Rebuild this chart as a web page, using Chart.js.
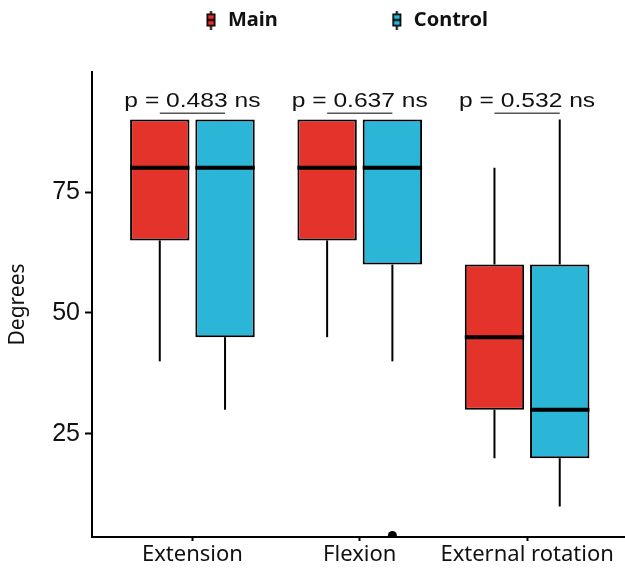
<!DOCTYPE html>
<html>
<head>
<meta charset="utf-8">
<script src="https://cdn.jsdelivr.net/npm/chart.js@4/dist/chart.umd.min.js"></script>
<style>
  html, body { margin: 0; padding: 0; background: #ffffff; }
  #wrap { width: 625px; height: 572px; }
</style>
</head>
<body>
<div id="wrap"><canvas id="c" width="625" height="572"></canvas></div>
<script>
// ---- data ----
const CATEGORIES = ['Extension', 'Flexion', 'External rotation'];
const SERIES = ['Main', 'Control'];

const MAIN_MIN = [40, 45, 20];
const MAIN_Q1  = [65, 65, 30];
const MAIN_MED = [80, 80, 45];
const MAIN_Q3  = [90, 90, 60];
const MAIN_MAX = [90, 90, 80];
const MAIN_OUTLIERS = [[], [], []];

const CTRL_MIN = [30, 40, 10];
const CTRL_Q1  = [45, 60, 20];
const CTRL_MED = [80, 80, 30];
const CTRL_Q3  = [90, 90, 60];
const CTRL_MAX = [90, 90, 90];
const CTRL_OUTLIERS = [[], [4], []];

const P_VALUES = ['0.483', '0.637', '0.532'];
const P_SIGNIF = ['ns', 'ns', 'ns'];

const Y_TICKS = [25, 50, 75];

// ---- styling ----
const RED = '#E4332A';
const BLUE = '#2BB5D6';
const STATS = [
  { min: MAIN_MIN, q1: MAIN_Q1, med: MAIN_MED, q3: MAIN_Q3, max: MAIN_MAX, out: MAIN_OUTLIERS },
  { min: CTRL_MIN, q1: CTRL_Q1, med: CTRL_MED, q3: CTRL_Q3, max: CTRL_MAX, out: CTRL_OUTLIERS }
];

function legendIcon(color) {
  const c = document.createElement('canvas');
  c.width = 11; c.height = 19;
  const g = c.getContext('2d');
  g.strokeStyle = '#000';
  g.lineWidth = 2;
  g.beginPath(); g.moveTo(5.5, 0); g.lineTo(5.5, 19); g.stroke();
  g.fillStyle = color;
  g.fillRect(1, 3, 9, 13);
  g.lineWidth = 1.6;
  g.strokeRect(1.8, 3.8, 7.4, 11.4);
  g.lineWidth = 2;
  g.beginPath(); g.moveTo(1, 9.5); g.lineTo(10, 9.5); g.stroke();
  return c;
}

const boxPlugin = {
  id: 'boxParts',
  beforeUpdate(chart) {
    const lg = chart.legend;
    if (!lg || lg._patched) return;
    lg._patched = true;
    const fit0 = lg.fit;
    lg.fit = function () { fit0.call(this); this.height = 72; };
    const draw0 = lg.draw;
    lg.draw = function () {
      const p = this.options.labels.padding;
      const L = this.left, R = this.right, T = this.top;
      const start = (this.left + p + this.right - this.lineWidths[0]) / 2;
      const dx = 204 - start;
      this.left += dx; this.right += dx; this.top = 10 - p;
      draw0.call(this);
      this.left = L; this.right = R; this.top = T;
    };
  },
  beforeDatasetsDraw(chart) {
    const ctx = chart.ctx, y = chart.scales.y;
    ctx.save();
    ctx.strokeStyle = '#000';
    ctx.lineWidth = 2;
    STATS.forEach((s, d) => {
      const meta = chart.getDatasetMeta(d);
      meta.data.forEach((el, i) => {
        const x = el.x;
        ctx.beginPath();
        ctx.moveTo(x, y.getPixelForValue(s.q1[i]));
        ctx.lineTo(x, y.getPixelForValue(s.min[i]));
        ctx.moveTo(x, y.getPixelForValue(s.q3[i]));
        ctx.lineTo(x, y.getPixelForValue(s.max[i]));
        ctx.stroke();
      });
    });
    ctx.restore();
  },
  afterDatasetsDraw(chart) {
    const ctx = chart.ctx, y = chart.scales.y, xs = chart.scales.x, a = chart.chartArea;
    ctx.save();
    // medians
    ctx.strokeStyle = '#000';
    ctx.lineWidth = 4;
    STATS.forEach((s, d) => {
      const meta = chart.getDatasetMeta(d);
      meta.data.forEach((el, i) => {
        const py = y.getPixelForValue(s.med[i]);
        ctx.beginPath();
        ctx.moveTo(el.x - el.width / 2, py);
        ctx.lineTo(el.x + el.width / 2, py);
        ctx.stroke();
      });
    });
    // outliers (clipped to plot area)
    ctx.save();
    ctx.beginPath();
    ctx.rect(a.left, a.top, a.right - a.left, a.bottom - a.top);
    ctx.clip();
    ctx.fillStyle = '#000';
    STATS.forEach((s, d) => {
      const meta = chart.getDatasetMeta(d);
      meta.data.forEach((el, i) => {
        s.out[i].forEach(v => {
          ctx.beginPath();
          ctx.arc(el.x, y.getPixelForValue(v), 4.5, 0, Math.PI * 2);
          ctx.fill();
        });
      });
    });
    ctx.restore();
    // p-value annotations with brackets
    const m0 = chart.getDatasetMeta(0), m1 = chart.getDatasetMeta(1);
    CATEGORIES.forEach((c, i) => {
      const by = y.getPixelForValue(91.3);
      ctx.strokeStyle = '#555';
      ctx.lineWidth = 1.5;
      ctx.beginPath();
      ctx.moveTo(m0.data[i].x, by);
      ctx.lineTo(m1.data[i].x, by);
      ctx.stroke();
      const cx = xs.getPixelForValue(i + 1);
      const ty = y.getPixelForValue(93.7);
      ctx.save();
      ctx.translate(cx, ty);
      ctx.scale(1.2, 1);
      ctx.font = '20.5px "Liberation Sans", Arial, sans-serif';
      ctx.fillStyle = '#111';
      ctx.textAlign = 'center';
      ctx.textBaseline = 'middle';
      ctx.fillText('p = ' + P_VALUES[i] + ' ' + P_SIGNIF[i], 0, 0);
      ctx.restore();
    });
    ctx.restore();
  }
};

const icons = [legendIcon(RED), legendIcon(BLUE)];

new Chart(document.getElementById('c'), {
  type: 'bar',
  data: {
    datasets: SERIES.map((name, d) => ({
      label: name,
      data: CATEGORIES.map((c, i) => ({ x: i + 1, y: [STATS[d].q1[i], STATS[d].q3[i]] })),
      backgroundColor: d === 0 ? RED : BLUE,
      borderColor: '#000',
      borderWidth: 2,
      borderSkipped: false,
      pointStyle: icons[d],
      categoryPercentage: 0.78,
      barPercentage: 0.91
    }))
  },
  options: {
    responsive: false,
    animation: false,
    events: [],
    layout: { padding: 0 },
    plugins: {
      tooltip: { enabled: false },
      legend: {
        display: true,
        position: 'top',
        labels: {
          usePointStyle: true,
          pointStyleWidth: 14,
          padding: 112,
          color: '#111',
          font: { family: '"Noto Sans", sans-serif', size: 20, weight: 'bold' },
          generateLabels(chart) {
            const items = Chart.defaults.plugins.legend.labels.generateLabels(chart);
            items.forEach((it, k) => { it.pointStyle = icons[k]; });
            return items;
          }
        }
      }
    },
    scales: {
      x: {
        type: 'linear',
        min: 0.4,
        max: 3.585,
        offset: false,
        afterBuildTicks(s) { s.ticks = CATEGORIES.map((c, i) => ({ value: i + 1 })); },
        afterFit(s) { s.height = 35; },
        ticks: {
          autoSkip: false,
          maxRotation: 0,
          padding: 1,
          color: '#111',
          font: { family: '"Noto Sans", sans-serif', size: 22 },
          callback: (v) => CATEGORIES[Math.round(v) - 1]
        },
        grid: { display: true, offset: false, drawOnChartArea: false, drawTicks: true, tickLength: 4, tickColor: '#000', tickWidth: 2 },
        border: { display: true, color: '#000', width: 2 }
      },
      y: {
        type: 'linear',
        min: 3.7,
        max: 99.8,
        afterBuildTicks(s) { s.ticks = Y_TICKS.map(v => ({ value: v })); },
        afterFit(s) { s.width = 92; },
        ticks: {
          padding: 5,
          color: '#111',
          font: { family: '"Liberation Sans", Arial, sans-serif', size: 25 }
        },
        grid: { display: true, drawOnChartArea: false, drawTicks: true, tickLength: 7, tickColor: '#000', tickWidth: 2 },
        border: { display: true, color: '#000', width: 2 },
        title: {
          display: true,
          text: 'Degrees',
          color: '#111',
          padding: { top: 5, bottom: 0 },
          font: { family: '"Noto Sans", sans-serif', size: 21 }
        }
      }
    }
  },
  plugins: [boxPlugin]
});
</script>
</body>
</html>
